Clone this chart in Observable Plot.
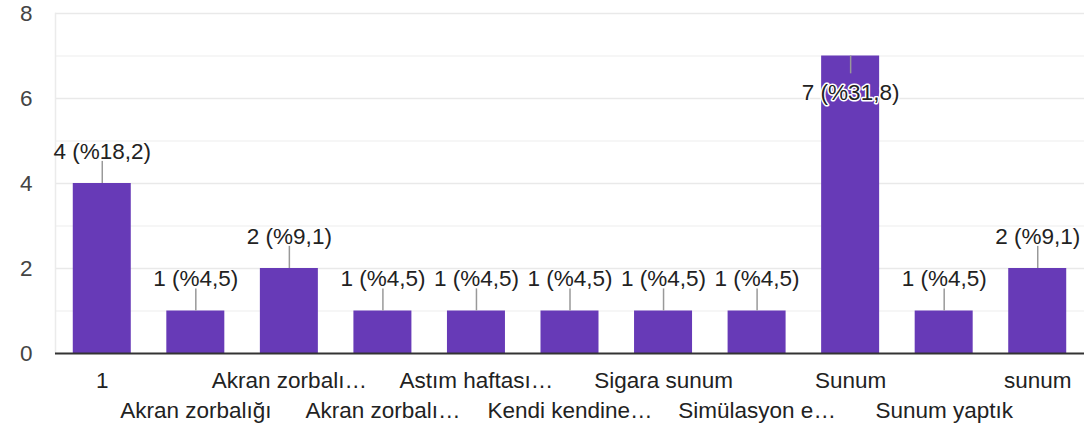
<!DOCTYPE html>
<html>
<head>
<meta charset="utf-8">
<script src="https://cdn.jsdelivr.net/npm/d3@7"></script>
<script src="https://cdn.jsdelivr.net/npm/@observablehq/plot@0.6"></script>
<style>
  html, body { margin: 0; padding: 0; background: #fff; }
  #chart svg { display: block; }
</style>
</head>
<body>
<div id="chart"></div>
<script>
const categories = ["1", "Akran zorbalığı", "Akran zorbalı…", "Akran zorbalı…", "Astım haftası…", "Kendi kendine…", "Sigara sunum", "Simülasyon e…", "Sunum", "Sunum yaptık", "sunum"];
const keys = categories.map((c, i) => i + ":" + c);
const counts = [4, 1, 2, 1, 1, 1, 1, 1, 7, 1, 2];
const percents = ["18,2", "4,5", "9,1", "4,5", "4,5", "4,5", "4,5", "4,5", "31,8", "4,5", "9,1"];
const majorTicks = [0, 2, 4, 6, 8];
const minorTicks = [1, 3, 5, 7];

const data = keys.map((k, i) => ({key: k, name: categories[i], value: counts[i], pct: percents[i], row: i % 2}));
const maxVal = d3.max(counts);
const above = data.filter(d => d.value < maxVal);
const inside = data.filter(d => d.value === maxVal);
const font = "Arial, 'Liberation Sans', sans-serif";
const fs = 22.5;

const chart = Plot.plot({
  width: 1084,
  height: 430,
  marginLeft: 55,
  marginRight: 0,
  marginTop: 13,
  marginBottom: 77,
  style: {fontFamily: font, fontSize: fs + "px", color: "#222", background: "#fff"},
  x: {domain: keys, paddingInner: 0.38, paddingOuter: 0.19, round: false, axis: null},
  y: {domain: [0, 8], axis: null},
  marks: [
    Plot.ruleY(minorTicks, {stroke: "#f3f3f3", strokeWidth: 1.5}),
    Plot.ruleY(majorTicks.filter(t => t > 0), {stroke: "#e9e9e9", strokeWidth: 1.5}),
    Plot.frame({anchor: "left", stroke: "#ebebeb", strokeWidth: 1.5}),
    Plot.axisY({ticks: majorTicks, tickSize: 0, tickPadding: 23, fontSize: fs, fill: "#444", label: null, tickFormat: d3.format("d")}),
    Plot.barY(data, {x: "key", y: "value", fill: "#673ab7"}),
    Plot.ruleY([0], {stroke: "#333", strokeWidth: 2}),
    Plot.ruleX(above, {x: "key", y1: "value", y2: d => d.value + 0.52, stroke: "#999", strokeWidth: 1.5}),
    Plot.ruleX(inside, {x: "key", y1: "value", y2: d => d.value - 0.42, stroke: "#999", strokeWidth: 1.5}),
    Plot.text(above, {x: "key", y: "value", text: d => `${d.value} (%${d.pct})`, dy: -32, fill: "#222", fontSize: fs}),
    Plot.text(inside, {x: "key", y: "value", text: d => `${d.value} (%${d.pct})`, dy: 37, fill: "#222", fontSize: fs, stroke: "white", strokeWidth: 3, paintOrder: "stroke"}),
    Plot.text(data.filter(d => d.row === 0), {x: "key", y: () => 0, text: "name", dy: 27, fill: "#222", fontSize: fs}),
    Plot.text(data.filter(d => d.row === 1), {x: "key", y: () => 0, text: "name", dy: 57, fill: "#222", fontSize: fs})
  ]
});
document.getElementById("chart").appendChild(chart);
</script>
</body>
</html>
